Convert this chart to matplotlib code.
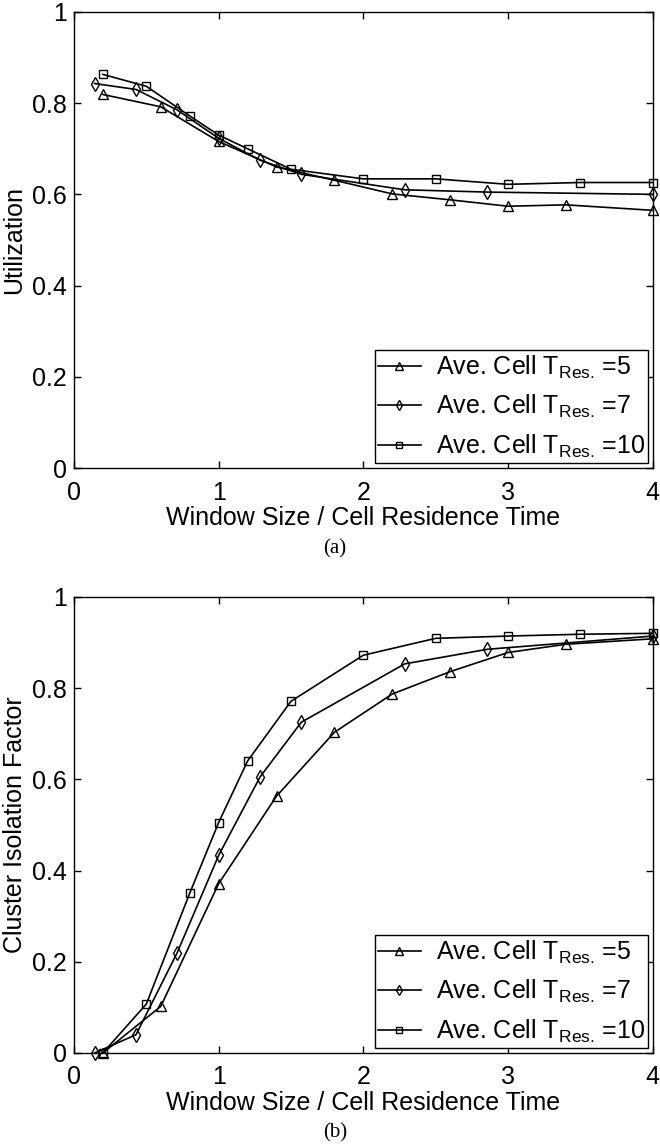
import matplotlib
matplotlib.use("Agg")
import matplotlib.pyplot as plt

plt.rcParams["font.family"] = ["Liberation Sans", "DejaVu Sans"]
plt.rcParams["mathtext.fontset"] = "custom"
plt.rcParams["mathtext.rm"] = "Liberation Sans"
plt.rcParams["mathtext.it"] = "Liberation Sans:italic"
plt.rcParams["mathtext.bf"] = "Liberation Sans:bold"

# ---- data ----
x_t5 = [0.2, 0.6, 1.0, 1.4, 1.8, 2.2, 2.6, 3.0, 3.4, 4.0]
x_t7 = [0.143, 0.429, 0.714, 1.0, 1.286, 1.571, 2.286, 2.857, 4.0]
x_t10 = [0.2, 0.5, 0.8, 1.0, 1.2, 1.5, 2.0, 2.5, 3.0, 3.5, 4.0]

util_t5 = [0.819, 0.792, 0.716, 0.660, 0.631, 0.601, 0.588, 0.574, 0.577, 0.565]
util_t7 = [0.843, 0.830, 0.785, 0.723, 0.675, 0.644, 0.610, 0.605, 0.600]
util_t10 = [0.863, 0.837, 0.772, 0.730, 0.700, 0.655, 0.634, 0.634, 0.622, 0.626, 0.626]

cif_t5 = [0.0, 0.102, 0.371, 0.563, 0.703, 0.787, 0.836, 0.878, 0.896, 0.908]
cif_t7 = [0.0, 0.040, 0.220, 0.433, 0.605, 0.725, 0.853, 0.885, 0.914]
cif_t10 = [0.0, 0.107, 0.350, 0.505, 0.640, 0.771, 0.872, 0.909, 0.914, 0.918, 0.920]

labels = [
    r"Ave. Cell T$_{\mathregular{Res.}}\,$=5",
    r"Ave. Cell T$_{\mathregular{Res.}}\,$=7",
    r"Ave. Cell T$_{\mathregular{Res.}}\,$=10",
]
x_ticks = [0, 1, 2, 3, 4]
y_ticks = [0, 0.2, 0.4, 0.6, 0.8, 1.0]
y_ticklabels = ["0", "0.2", "0.4", "0.6", "0.8", "1"]
xlabel = "Window Size / Cell Residence Time"


def _draw_panel(ax, series, ylabel):
    styles = [
        dict(marker="^", markersize=7),
        dict(marker="d", markersize=7),
        dict(marker="s", markersize=5.5),
    ]
    for (xs, ys), lab, st in zip(series, labels, styles):
        ax.plot(xs, ys, color="black", linewidth=1.2, markerfacecolor="none",
                markeredgecolor="black", markeredgewidth=1.0, label=lab,
                clip_on=False, **st)

    ax.set_xlim(0, 4)
    ax.set_ylim(0, 1)
    ax.set_xticks(x_ticks)
    ax.set_xticklabels([str(t) for t in x_ticks])
    ax.set_yticks(y_ticks)
    ax.set_yticklabels(y_ticklabels)
    ax.tick_params(direction="in", top=True, right=True, length=5, width=1,
                   labelsize=18)
    ax.tick_params(axis="x", pad=9)
    ax.tick_params(axis="y", pad=5)
    for sp in ax.spines.values():
        sp.set_linewidth(1.0)
    ax.set_xlabel(xlabel, fontsize=18, labelpad=1)
    ax.set_ylabel(ylabel, fontsize=18, labelpad=4)

    leg = ax.legend(loc="lower right", fontsize=18, frameon=True, fancybox=False,
                    framealpha=1, edgecolor="black", borderaxespad=0.2,
                    handlelength=1.7, handletextpad=0.6, labelspacing=0.5,
                    borderpad=0.12, markerscale=0.75)
    leg.get_frame().set_linewidth(1.0)


fig = plt.figure(figsize=(6.6, 11.46), dpi=100)
ax_a = fig.add_axes([0.112, 0.5916, 0.877, 0.398])
ax_b = fig.add_axes([0.112, 0.0812, 0.877, 0.398])

_draw_panel(ax_a, [(x_t5, util_t5), (x_t7, util_t7), (x_t10, util_t10)], "Utilization")
_draw_panel(ax_b, [(x_t5, cif_t5), (x_t7, cif_t7), (x_t10, cif_t10)], "Cluster Isolation Factor")

fig.text(335 / 660, 1 - 549 / 1146, "(a)", ha="center", va="center",
         family=["Liberation Serif", "DejaVu Serif"], fontsize=15)
fig.text(335 / 660, 1 - 1133 / 1146, "(b)", ha="center", va="center",
         family=["Liberation Serif", "DejaVu Serif"], fontsize=15)

fig.savefig("out.png", dpi=100)
plt.close(fig)
